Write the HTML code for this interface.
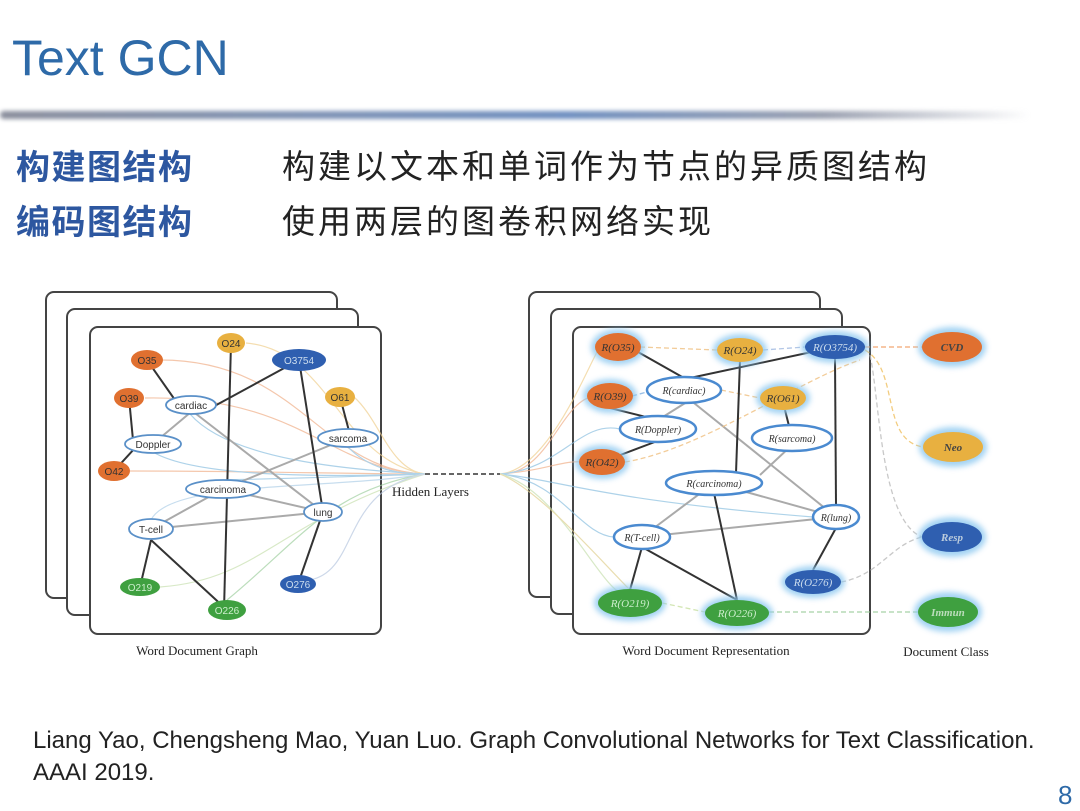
<!DOCTYPE html>
<html><head><meta charset="utf-8"><style>
html,body{margin:0;padding:0;background:#fff;}
body{width:1080px;height:810px;position:relative;overflow:hidden;font-family:"Liberation Sans","Noto Sans CJK SC",sans-serif;}
.t{position:absolute;white-space:nowrap;}
</style></head><body>
<div class="t" style="left:12px;top:29px;font-size:50px;color:#2e6aa8;">Text GCN</div>
<div style="position:absolute;left:0;top:111px;width:1030px;height:8px;background:linear-gradient(90deg,#8a8e9c 0%,#7f93b5 30%,#6f8fc0 55%,#9aa0b0 80%,rgba(255,255,255,0) 100%);filter:blur(2px);border-radius:4px;"></div>
<div class="t" style="left:16px;top:140px;font-size:34px;letter-spacing:1.5px;color:#2d57a0;font-weight:bold;font-family:'Noto Sans CJK SC',sans-serif;">构建图结构</div>
<div class="t" style="left:16px;top:195px;font-size:34px;letter-spacing:1.5px;color:#2d57a0;font-weight:bold;font-family:'Noto Sans CJK SC',sans-serif;">编码图结构</div>
<div class="t" style="left:282px;top:140px;font-size:33px;color:#222;letter-spacing:3px;font-family:'Noto Sans CJK SC',sans-serif;">构建以文本和单词作为节点的异质图结构</div>
<div class="t" style="left:282px;top:195px;font-size:33px;color:#222;letter-spacing:3px;font-family:'Noto Sans CJK SC',sans-serif;">使用两层的图卷积网络实现</div>

<svg style="position:absolute;left:0;top:0" width="1080" height="810" font-family="Liberation Sans, sans-serif">
<defs>
<filter id="gl" x="-50%" y="-50%" width="200%" height="200%"><feGaussianBlur stdDeviation="3"/></filter>
</defs>
<g fill="#fff" stroke="#444" stroke-width="2">
<rect x="46" y="292" width="291" height="306" rx="8"/>
<rect x="67" y="309" width="291" height="306" rx="8"/>
<rect x="90" y="327" width="291" height="307" rx="8"/>
<rect x="529" y="292" width="291" height="305" rx="8"/>
<rect x="551" y="309" width="291" height="305" rx="8"/>
<rect x="573" y="327" width="297" height="307" rx="8"/>
</g>
<g fill="none" stroke-width="1.2" opacity="0.7">
<path d="M160 360 C300 360 320 470 425 474" stroke="#f0b08a"/>
<path d="M145 398 C300 395 330 470 425 474" stroke="#f0b08a"/>
<path d="M130 471 C250 471 350 474 425 474" stroke="#f0b08a"/>
<path d="M246 343 C330 350 340 460 425 474" stroke="#f0d090"/>
<path d="M354 397 C380 420 390 470 425 474" stroke="#f0d090"/>
<path d="M190 414 C230 460 350 470 425 474" stroke="#8cc0e0"/>
<path d="M153 452 C200 480 350 476 425 474" stroke="#8cc0e0"/>
<path d="M348 447 C370 470 400 474 425 474" stroke="#8cc0e0"/>
<path d="M223 480 C300 478 380 476 425 474" stroke="#8cc0e0"/>
<path d="M151 520 C170 480 330 490 425 474" stroke="#b0d0e8"/>
<path d="M160 587 C260 580 280 520 425 474" stroke="#c8e0b0"/>
<path d="M227 600 C300 540 330 490 425 474" stroke="#a0d0a0"/>
<path d="M310 580 C360 570 340 490 425 474" stroke="#b8c8e0"/>
<path d="M500 474 C550 474 560 400 595 396" stroke="#f0b08a"/>
<path d="M500 474 C550 470 560 460 585 462" stroke="#f0b08a"/>
<path d="M500 474 C550 470 590 360 600 347" stroke="#f0d090"/>
<path d="M500 474 C560 470 580 420 620 429" stroke="#8cc0e0"/>
<path d="M500 474 C560 480 580 535 614 537" stroke="#8cc0e0"/>
<path d="M500 474 C560 480 600 500 813 517" stroke="#8cc0e0"/>
<path d="M500 474 C560 490 600 590 625 595" stroke="#c8e0b0"/>
<path d="M500 474 C540 490 600 560 630 590" stroke="#e0d090"/>
</g>
<line x1="425" y1="474" x2="500" y2="474" stroke="#333" stroke-width="1.5" stroke-dasharray="5,3"/>
<text x="392" y="496" font-family="Liberation Serif, serif" font-size="13" fill="#222">Hidden Layers</text>
<g stroke="#aaa" stroke-width="2">
<line x1="160" y1="438" x2="191" y2="412"/>
<line x1="191" y1="410" x2="323" y2="512"/>
<line x1="223" y1="489" x2="323" y2="512"/>
<line x1="223" y1="489" x2="151" y2="529"/>
<line x1="151" y1="529" x2="323" y2="512"/>
<line x1="223" y1="489" x2="348" y2="438"/>
</g>
<g stroke="#333" stroke-width="2">
<line x1="147" y1="360" x2="175" y2="400"/>
<line x1="129" y1="398" x2="133" y2="440"/>
<line x1="114" y1="471" x2="135" y2="448"/>
<line x1="299" y1="360" x2="209" y2="409"/>
<line x1="231" y1="343" x2="224" y2="610"/>
<line x1="299" y1="360" x2="323" y2="512"/>
<line x1="340" y1="397" x2="349" y2="431"/>
<line x1="323" y1="512" x2="298" y2="584"/>
<line x1="151" y1="540" x2="140" y2="587"/>
<line x1="151" y1="540" x2="227" y2="610"/>
</g>
<g font-size="10" text-anchor="middle">
<ellipse cx="231" cy="343" rx="14" ry="10" fill="#e8b040"/><text x="231" y="347" fill="#333">O24</text>
<ellipse cx="147" cy="360" rx="16" ry="10" fill="#e07030"/><text x="147" y="364" fill="#333">O35</text>
<ellipse cx="299" cy="360" rx="27" ry="11" fill="#2f5fb0"/><text x="299" y="364" fill="#cde">O3754</text>
<ellipse cx="129" cy="398" rx="15" ry="10" fill="#e07030"/><text x="129" y="402" fill="#333">O39</text>
<ellipse cx="340" cy="397" rx="15" ry="10" fill="#e8b040"/><text x="340" y="401" fill="#333">O61</text>
<ellipse cx="114" cy="471" rx="16" ry="10" fill="#e07030"/><text x="114" y="475" fill="#333">O42</text>
<ellipse cx="140" cy="587" rx="20" ry="9" fill="#3fa040"/><text x="140" y="591" fill="#cec">O219</text>
<ellipse cx="227" cy="610" rx="19" ry="10" fill="#3fa040"/><text x="227" y="614" fill="#cec">O226</text>
<ellipse cx="298" cy="584" rx="18" ry="9" fill="#2f5fb0"/><text x="298" y="588" fill="#cde">O276</text>
<g fill="#fff" stroke="#5a90c8" stroke-width="1.8">
<ellipse cx="191" cy="405" rx="25" ry="9"/><ellipse cx="348" cy="438" rx="30" ry="9"/>
<ellipse cx="153" cy="444" rx="28" ry="9"/><ellipse cx="223" cy="489" rx="37" ry="9"/>
<ellipse cx="323" cy="512" rx="19" ry="9"/><ellipse cx="151" cy="529" rx="22" ry="10"/>
</g>
<g fill="#333"><text x="191" y="409">cardiac</text><text x="348" y="442">sarcoma</text><text x="153" y="448">Doppler</text><text x="223" y="493">carcinoma</text><text x="323" y="516">lung</text><text x="151" y="533">T-cell</text></g>
</g>
<g stroke="#aaa" stroke-width="2">
<line x1="684" y1="395" x2="836" y2="517"/>
<line x1="714" y1="483" x2="836" y2="517"/>
<line x1="714" y1="483" x2="642" y2="537"/>
<line x1="642" y1="537" x2="836" y2="517"/>
<line x1="760" y1="475" x2="792" y2="445"/>
<line x1="690" y1="400" x2="650" y2="425"/>
</g>
<g fill="none" stroke-width="1.3" stroke-dasharray="5,3" opacity="0.8">
<path d="M640 347 L717 350" stroke="#f0c080"/>
<path d="M763 350 L805 347" stroke="#a0b8e0"/>
<path d="M865 347 L922 347" stroke="#f09050"/>
<path d="M865 350 C900 370 880 440 923 447" stroke="#f0c060"/>
<path d="M870 355 C880 400 880 520 922 537" stroke="#bbb"/>
<path d="M841 582 C880 575 890 545 922 537" stroke="#bbb"/>
<path d="M662 603 L705 612" stroke="#c8e0a0"/>
<path d="M769 612 L918 612" stroke="#90c890"/>
<path d="M625 462 C700 450 800 380 860 360" stroke="#f0c080"/>
<path d="M632 396 L647 392" stroke="#80b0e0"/>
<path d="M721 390 L760 398" stroke="#f0c080"/>
</g>
<g stroke="#333" stroke-width="2">
<line x1="638" y1="352" x2="684" y2="378"/>
<line x1="835" y1="347" x2="690" y2="378"/>
<line x1="740" y1="360" x2="736" y2="473"/>
<line x1="835" y1="358" x2="836" y2="505"/>
<line x1="610" y1="408" x2="650" y2="418"/>
<line x1="602" y1="462" x2="660" y2="440"/>
<line x1="785" y1="410" x2="789" y2="426"/>
<line x1="714" y1="493" x2="737" y2="600"/>
<line x1="642" y1="547" x2="630" y2="590"/>
<line x1="642" y1="547" x2="737" y2="600"/>
<line x1="836" y1="528" x2="813" y2="570"/>
</g>
<g font-family="Liberation Serif, serif" font-style="italic" font-size="11" text-anchor="middle">
<g filter="url(#gl)" fill="#8cc8f0" opacity="0.8">
<ellipse cx="618" cy="347" rx="27" ry="18"/><ellipse cx="740" cy="350" rx="27" ry="16"/><ellipse cx="835" cy="347" rx="34" ry="16"/>
<ellipse cx="610" cy="396" rx="27" ry="17"/><ellipse cx="783" cy="398" rx="27" ry="16"/><ellipse cx="602" cy="462" rx="27" ry="17"/>
<ellipse cx="813" cy="582" rx="32" ry="16"/><ellipse cx="630" cy="603" rx="36" ry="18"/><ellipse cx="737" cy="613" rx="36" ry="17"/>
<ellipse cx="952" cy="347" rx="34" ry="20"/><ellipse cx="953" cy="447" rx="34" ry="20"/><ellipse cx="952" cy="537" rx="34" ry="20"/><ellipse cx="948" cy="612" rx="34" ry="20"/>
</g>
<ellipse cx="618" cy="347" rx="23" ry="14" fill="#e07030"/><text x="618" y="351" fill="#333">R(O35)</text>
<ellipse cx="740" cy="350" rx="23" ry="12" fill="#e8b040"/><text x="740" y="354" fill="#333">R(O24)</text>
<ellipse cx="835" cy="347" rx="30" ry="12" fill="#2f5fb0"/><text x="835" y="351" fill="#cde">R(O3754)</text>
<ellipse cx="610" cy="396" rx="23" ry="13" fill="#e07030"/><text x="610" y="400" fill="#333">R(O39)</text>
<ellipse cx="783" cy="398" rx="23" ry="12" fill="#e8b040"/><text x="783" y="402" fill="#333">R(O61)</text>
<ellipse cx="602" cy="462" rx="23" ry="13" fill="#e07030"/><text x="602" y="466" fill="#333">R(O42)</text>
<ellipse cx="813" cy="582" rx="28" ry="12" fill="#2f5fb0"/><text x="813" y="586" fill="#cde">R(O276)</text>
<ellipse cx="630" cy="603" rx="32" ry="14" fill="#3fa040"/><text x="630" y="607" fill="#cec">R(O219)</text>
<ellipse cx="737" cy="613" rx="32" ry="13" fill="#3fa040"/><text x="737" y="617" fill="#cec">R(O226)</text>
<g fill="#fff" stroke="#4a8ad0" stroke-width="2.5">
<ellipse cx="684" cy="390" rx="37" ry="13"/><ellipse cx="658" cy="429" rx="38" ry="13"/>
<ellipse cx="792" cy="438" rx="40" ry="13"/><ellipse cx="714" cy="483" rx="48" ry="12"/>
<ellipse cx="836" cy="517" rx="23" ry="12"/><ellipse cx="642" cy="537" rx="28" ry="12"/>
</g>
<g fill="#333" font-size="10"><text x="684" y="394">R(cardiac)</text><text x="658" y="433">R(Doppler)</text><text x="792" y="442">R(sarcoma)</text><text x="714" y="487">R(carcinoma)</text><text x="836" y="521">R(lung)</text><text x="642" y="541">R(T-cell)</text></g>
<g font-weight="bold">
<ellipse cx="952" cy="347" rx="30" ry="15" fill="#e07030"/><text x="952" y="351" fill="#444">CVD</text>
<ellipse cx="953" cy="447" rx="30" ry="15" fill="#e8b040"/><text x="953" y="451" fill="#444">Neo</text>
<ellipse cx="952" cy="537" rx="30" ry="15" fill="#2f5fb0"/><text x="952" y="541" fill="#bcd">Resp</text>
<ellipse cx="948" cy="612" rx="30" ry="15" fill="#3fa040"/><text x="948" y="616" fill="#bdb">Immun</text>
</g>
</g>
<g font-family="Liberation Serif, serif" font-size="13" fill="#222" text-anchor="middle">
<text x="197" y="655">Word Document Graph</text>
<text x="706" y="655">Word Document Representation</text>
<text x="946" y="656">Document Class</text>
</g>
</svg>
<div class="t" style="left:33px;top:727px;font-size:24px;color:#222;">Liang Yao, Chengsheng Mao, Yuan Luo. Graph Convolutional Networks for Text Classification.</div>
<div class="t" style="left:33px;top:759px;font-size:24px;color:#222;">AAAI 2019.</div>
<div class="t" style="left:1058px;top:780px;font-size:26px;color:#2e6aa8;">8</div>
</body></html>
